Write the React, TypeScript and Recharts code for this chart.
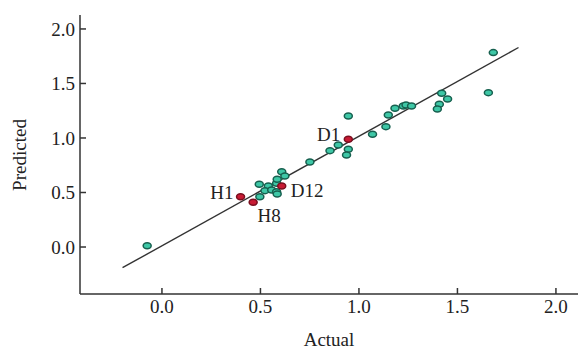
import React from 'react';
import { ScatterChart, Scatter, XAxis, YAxis, ReferenceLine, Label } from 'recharts';

// measured model (teal points)
const actual = [
  -0.075, 0.494, 0.54, 0.523, 0.557, 0.582, 0.585, 0.497, 0.582, 0.585, 0.608, 0.624,
  0.751, 0.853, 0.895, 0.946, 0.946, 0.937, 1.069, 1.137, 1.149, 1.183, 1.225, 1.239,
  1.267, 1.42, 1.45, 1.408, 1.398, 1.657, 1.682,
];
const predicted = [
  0.012, 0.575, 0.56, 0.517, 0.523, 0.507, 0.486, 0.461, 0.584, 0.621, 0.691, 0.651,
  0.78, 0.884, 0.936, 1.202, 0.896, 0.844, 1.034, 1.104, 1.211, 1.272, 1.294, 1.303,
  1.294, 1.41, 1.358, 1.309, 1.266, 1.416, 1.783,
];

// labelled compounds (red points)
const redNames = ['H1', 'H8', 'D12', 'D1'];
const redActual = [0.399, 0.463, 0.608, 0.946];
const redPredicted = [0.461, 0.41, 0.56, 0.988];

// regression line end points
const fitX = [-0.2, 1.81];
const fitY = [-0.19, 1.83];

const axisTicks = [0, 0.5, 1.0, 1.5, 2.0];

const tealData = actual.map((x, i) => ({ x, y: predicted[i] }));
const redData = redNames.map((name, i) => ({ name, x: redActual[i], y: redPredicted[i] }));

const FONT = '"Liberation Serif", "Times New Roman", serif';
const AXIS = '#333';

// where each name sits relative to its point
const labelPlace: Record<string, { dx: number; dy: number; anchor: 'start' | 'middle' | 'end' }> = {
  H1: { dx: -7, dy: -4, anchor: 'end' },
  H8: { dx: 16, dy: 13, anchor: 'middle' },
  D12: { dx: 9, dy: 5, anchor: 'start' },
  D1: { dx: -8, dy: -5, anchor: 'end' },
};

const TealDot = (props: any) => {
  const { cx, cy } = props;
  return <ellipse cx={cx} cy={cy} rx={4} ry={3} fill="#3ec7a6" stroke="#17604f" strokeWidth={1.5} />;
};

const RedDot = (props: any) => {
  const { cx, cy, payload } = props;
  const p = labelPlace[payload.name];
  return (
    <g>
      <ellipse cx={cx} cy={cy} rx={4} ry={3} fill="#c81a33" stroke="#7a0f1f" strokeWidth={1.5} />
      <text
        x={cx + p.dx}
        y={cy + p.dy}
        textAnchor={p.anchor}
        dominantBaseline="central"
        fontFamily={FONT}
        fontSize={19}
        fill="#222"
      >
        {payload.name}
      </text>
    </g>
  );
};

const tickStyle = { fill: '#222', fontSize: 19, fontFamily: FONT };

export default function App() {
  return (
    <div style={{ position: 'absolute', left: 0, top: 0, background: '#fff' }}>
      <ScatterChart width={580} height={350} margin={{ top: 15, right: 2, bottom: 0, left: 20 }}>
        <XAxis
          type="number"
          dataKey="x"
          domain={[-0.416, 2.112]}
          ticks={axisTicks}
          allowDataOverflow
          tickFormatter={(v: number) => v.toFixed(1)}
          tick={tickStyle}
          tickSize={-6}
          tickMargin={12}
          height={56}
          stroke={AXIS}
          strokeWidth={1.5}
        >
          <Label
            value="Actual"
            position="insideBottom"
            offset={4}
            style={{ fontFamily: FONT, fontSize: 19, fill: '#222' }}
          />
        </XAxis>
        <YAxis
          type="number"
          dataKey="y"
          domain={[-0.431, 2.128]}
          ticks={axisTicks}
          allowDataOverflow
          tickFormatter={(v: number) => v.toFixed(1)}
          tick={tickStyle}
          tickSize={-6}
          tickMargin={11}
          width={60}
          stroke={AXIS}
          strokeWidth={1.5}
        >
          <Label
            content={() => (
              <text
                x={19}
                y={155}
                transform="rotate(-90 19 155)"
                textAnchor="middle"
                dominantBaseline="central"
                fontFamily={FONT}
                fontSize={19}
                fill="#222"
              >
                Predicted
              </text>
            )}
          />
        </YAxis>
        <ReferenceLine
          segment={[
            { x: fitX[0], y: fitY[0] },
            { x: fitX[1], y: fitY[1] },
          ]}
          stroke="#333"
          strokeWidth={1.4}
        />
        <Scatter data={tealData} shape={TealDot} isAnimationActive={false} />
        <Scatter data={redData} shape={RedDot} isAnimationActive={false} />
      </ScatterChart>
    </div>
  );
}
